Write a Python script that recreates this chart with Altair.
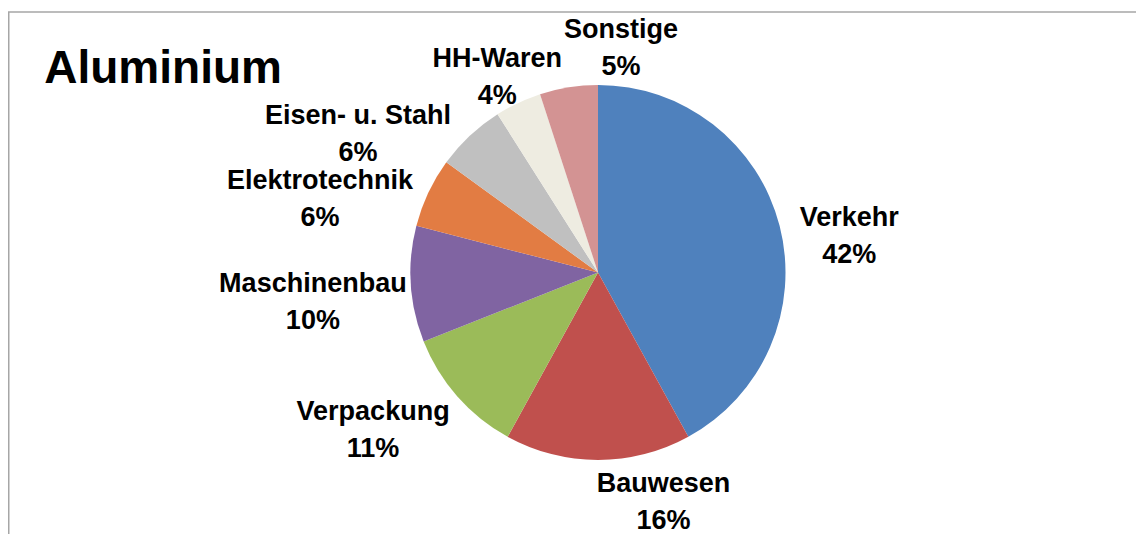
import altair as alt
import pandas as pd

categories = ["Verkehr", "Bauwesen", "Verpackung", "Maschinenbau",
              "Elektrotechnik", "Eisen- u. Stahl", "HH-Waren", "Sonstige"]
shares = [42, 16, 11, 10, 6, 6, 4, 5]
colors = ["#4F81BD", "#C0504D", "#9BBB59", "#8064A2",
          "#E27C43", "#C0C0C0", "#EEECE1", "#D39393"]
title_text = "Aluminium"

df = pd.DataFrame({"idx": list(range(len(categories))),
                   "category": categories, "share": shares})

W, H = 1128, 526
CX, CY, R = 590, 264.5, 187.5
FONT = "Liberation Sans"
LH = 37

base = alt.Chart(df)

pie = base.mark_arc(radius=R).encode(
    theta=alt.Theta("share:Q", stack=True),
    color=alt.Color("category:N", scale=alt.Scale(domain=categories, range=colors), legend=None),
    order=alt.Order("idx:Q"),
    x=alt.value(CX),
    y=alt.value(CY),
)

# outside-end label placement: anchor just outside the rim at the slice's mid angle,
# label box pushed outward depending on direction
labels = base.transform_joinaggregate(
    total="sum(share)"
).transform_window(
    cum="sum(share)", sort=[alt.SortField("idx")], frame=[None, 0]
).transform_calculate(
    mid="2*PI*(datum.cum - datum.share/2)/datum.total",
).transform_calculate(
    ux="sin(datum.mid)", uy="-cos(datum.mid)",
).transform_calculate(
    ax=f"{CX} + {R + 10}*datum.ux",
    ay=f"{CY} + {R + 10}*datum.uy",
    w="41 + 11.25*length(datum.category)",
    f="clamp(1.45 + 4*datum.ux, -1, 1)",
    dyb="17 + 15*datum.uy - 130*max(0, -0.75 - datum.uy)",
    label="datum.category + '\\n' + datum.share + '%'",
).transform_calculate(
    lx="datum.ax + datum.f*datum.w/2",
    ly=f"datum.ay + datum.dyb - {LH / 2}",
).mark_text(
    font=FONT, fontWeight="bold", fontSize=27, lineHeight=LH,
    align="center", baseline="middle", lineBreak="\n", color="#000000",
).encode(
    x=alt.X("lx:Q", scale=None, axis=None),
    y=alt.Y("ly:Q", scale=None, axis=None),
    text="label:N",
)

frame_df = pd.DataFrame({"k": [0]})
top_line = alt.Chart(frame_df).mark_rule(color="#A6A6A6", strokeWidth=1.5).encode(
    x=alt.value(0), x2=alt.value(W), y=alt.value(4)
)
left_line = alt.Chart(frame_df).mark_rule(color="#A6A6A6", strokeWidth=1.5).encode(
    x=alt.value(0.75), y=alt.value(4), y2=alt.value(H)
)

chart = alt.layer(top_line, left_line, pie, labels).properties(
    width=W, height=H, padding=0,
    autosize=alt.AutoSizeParams(type="none"),
    title=alt.TitleParams(title_text, anchor="start", font=FONT, fontSize=46,
                          fontWeight="bold", color="#000000", baseline="alphabetic",
                          dx=37, dy=125, offset=4),
).configure_view(stroke=None)

chart.save("out.html", embed_options={"renderer": "svg", "actions": False})
